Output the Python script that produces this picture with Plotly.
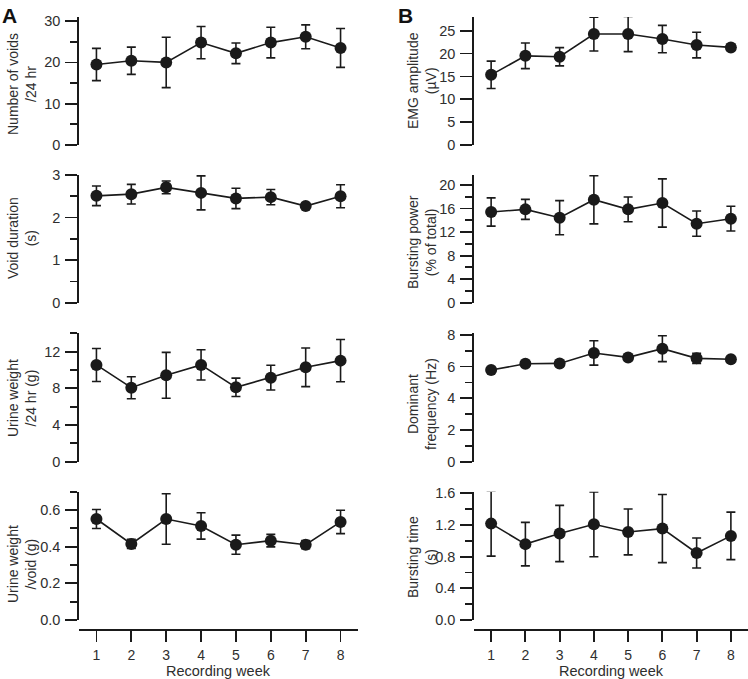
import plotly.graph_objects as go

W, H = 748, 679

weeks = [1, 2, 3, 4, 5, 6, 7, 8]
week_labels = ["1", "2", "3", "4", "5", "6", "7", "8"]

# Panel A
voids_mean = [19.5, 20.4, 20.0, 24.8, 22.2, 24.8, 26.2, 23.5]
voids_err = [3.9, 3.3, 6.1, 3.9, 2.5, 3.7, 2.9, 4.7]
duration_mean = [2.51, 2.55, 2.71, 2.58, 2.45, 2.48, 2.27, 2.50]
duration_err = [0.23, 0.23, 0.15, 0.40, 0.24, 0.18, 0.03, 0.27]
urine24_mean = [10.55, 8.07, 9.42, 10.55, 8.11, 9.16, 10.29, 11.02]
urine24_err = [1.8, 1.2, 2.5, 1.65, 1.0, 1.35, 2.1, 2.3]
urinevoid_mean = [0.551, 0.415, 0.551, 0.513, 0.411, 0.433, 0.411, 0.535]
urinevoid_err = [0.052, 0.025, 0.138, 0.072, 0.052, 0.034, 0.022, 0.064]

# Panel B
emg_mean = [15.35, 19.5, 19.3, 24.27, 24.27, 23.17, 21.86, 21.35]
emg_err = [3.0, 2.8, 2.0, 3.7, 3.85, 3.0, 2.8, 0.6]
power_mean = [15.41, 15.86, 14.45, 17.5, 15.86, 16.94, 13.43, 14.28]
power_err = [2.4, 1.7, 2.9, 4.1, 2.1, 4.1, 2.15, 2.1]
freq_mean = [5.78, 6.18, 6.2, 6.86, 6.58, 7.13, 6.52, 6.46]
freq_err = [0.15, 0.15, 0.15, 0.77, 0.15, 0.82, 0.32, 0.15]
btime_mean = [1.217, 0.958, 1.092, 1.208, 1.112, 1.154, 0.846, 1.062]
btime_err = [0.41, 0.275, 0.355, 0.41, 0.29, 0.43, 0.19, 0.30]

panels = [
    # (mean, err, col, row, yrange, major, minor, title, title_y_px)
    (voids_mean, voids_err, 0, 0, [0, 31], 10, 5, "Number of voids<br>/24 hr", 84),
    (duration_mean, duration_err, 0, 1, [0, 3], 1, 0.5, "Void duration<br>(s)", 238),
    (urine24_mean, urine24_err, 0, 2, [0, 14], 4, 2, "Urine weight<br>/24 hr (g)", 398),
    (urinevoid_mean, urinevoid_err, 0, 3, [0, 0.7], 0.2, 0.1, "Urine weight<br>/void (g)", 564),
    (emg_mean, emg_err, 1, 0, [0, 28], 5, None, "EMG amplitude<br>(µV)", 81),
    (power_mean, power_err, 1, 1, [0, 21.7], 4, 2, "Bursting power<br>(% of total)", 242),
    (freq_mean, freq_err, 1, 2, [0, 8.1], 2, 1, "Dominant<br>frequency (Hz)", 404),
    (btime_mean, btime_err, 1, 3, [0, 1.62], 0.4, 0.2, "Bursting time<br>(s)", 557),
]

x_dom = [[79 / W, 358 / W], [474 / W, 1.0]]
row_px = [(17, 145), (175, 302.7), (333.3, 461.7), (491.7, 620)]
title_x_px = [22, 422]

LINE = "#1a1a1a"
TEXT = "#2e2e2e"
FONT = "Liberation Sans, Arial, sans-serif"
TICK_SIZE = 14.5
XTICK_SIZE = 14
TITLE_SIZE = 14

fig = go.Figure()
layout = dict(
    width=W, height=H, autosize=False,
    margin=dict(l=0, r=0, t=0, b=0, pad=0, autoexpand=False),
    paper_bgcolor="white", plot_bgcolor="white",
    showlegend=False,
    font=dict(family=FONT, size=TICK_SIZE, color=TEXT),
)
annotations = []

for i, (mean, err, col, row, yr, major, minor, title, ty) in enumerate(panels):
    n = i + 1
    xa = "x" if n == 1 else f"x{n}"
    ya = "y" if n == 1 else f"y{n}"
    xkey = "xaxis" if n == 1 else f"xaxis{n}"
    ykey = "yaxis" if n == 1 else f"yaxis{n}"
    fig.add_trace(go.Scatter(
        x=weeks, y=mean, xaxis=xa, yaxis=ya,
        mode="lines+markers",
        line=dict(color=LINE, width=1.6),
        marker=dict(color=LINE, size=12, line=dict(width=0)),
        error_y=dict(type="data", array=err, visible=True,
                     color=LINE, thickness=1.6, width=4.5),
        cliponaxis=False,
        hoverinfo="skip",
    ))
    top, bot = row_px[row]
    bottom_row = row == 3
    xd = dict(
        domain=x_dom[col], range=[0.5, 8.5], anchor=ya,
        showgrid=False, zeroline=False, automargin=False,
    )
    if bottom_row:
        xd.update(
            anchor="free", position=1 - 629 / H,
            showline=True, linecolor=LINE, linewidth=1.8,
            ticks="outside", ticklen=11, tickwidth=1.8, tickcolor=LINE,
            tickmode="array", tickvals=weeks, ticktext=week_labels,
            tickfont=dict(size=XTICK_SIZE, color=TEXT),
            ticklabelstandoff=1,
        )
    else:
        xd.update(visible=False)
    layout[xkey] = xd
    yd = dict(
        domain=[1 - bot / H, 1 - top / H], range=yr, anchor=xa,
        showgrid=False, zeroline=False, automargin=False,
        showline=True, linecolor=LINE, linewidth=1.8,
        ticks="outside", ticklen=12, tickwidth=1.8, tickcolor=LINE,
        dtick=major, tick0=0,
        tickfont=dict(size=TICK_SIZE, color=TEXT),
        ticklabelstandoff=2,
    )
    if major < 1:
        yd["tickformat"] = ".1f"
    if minor is not None:
        yd["minor"] = dict(ticks="outside", ticklen=7, tickwidth=1.8,
                           tickcolor=LINE, dtick=minor, tick0=0)
    layout[ykey] = yd
    annotations.append(dict(
        text=title, xref="paper", yref="paper",
        x=title_x_px[col] / W, y=1 - ty / H,
        xanchor="center", yanchor="middle", textangle=-90,
        showarrow=False, align="center",
        font=dict(size=TITLE_SIZE, color=TEXT, family=FONT),
    ))

# x-axis titles
for cx in [(79 + 358) / 2, (474 + 748) / 2]:
    annotations.append(dict(
        text="Recording week", xref="paper", yref="paper",
        x=cx / W, y=1 - 671 / H, xanchor="center", yanchor="middle",
        showarrow=False, font=dict(size=14.5, color=TEXT, family=FONT),
    ))

# panel letters
for letter, px in [("A", 0), ("B", 396)]:
    annotations.append(dict(
        text=f"<b>{letter}</b>", xref="paper", yref="paper",
        x=px / W, y=1 - 15 / H, xanchor="left", yanchor="middle",
        showarrow=False, font=dict(size=21, color="#111111", family=FONT),
    ))

layout["annotations"] = annotations
fig.update_layout(**layout)
fig.write_html(
    "out.html",
    config={"displayModeBar": False, "staticPlot": True},
    post_script="document.documentElement.style.margin='0';document.body.style.margin='0';document.body.style.overflow='hidden';",
)
